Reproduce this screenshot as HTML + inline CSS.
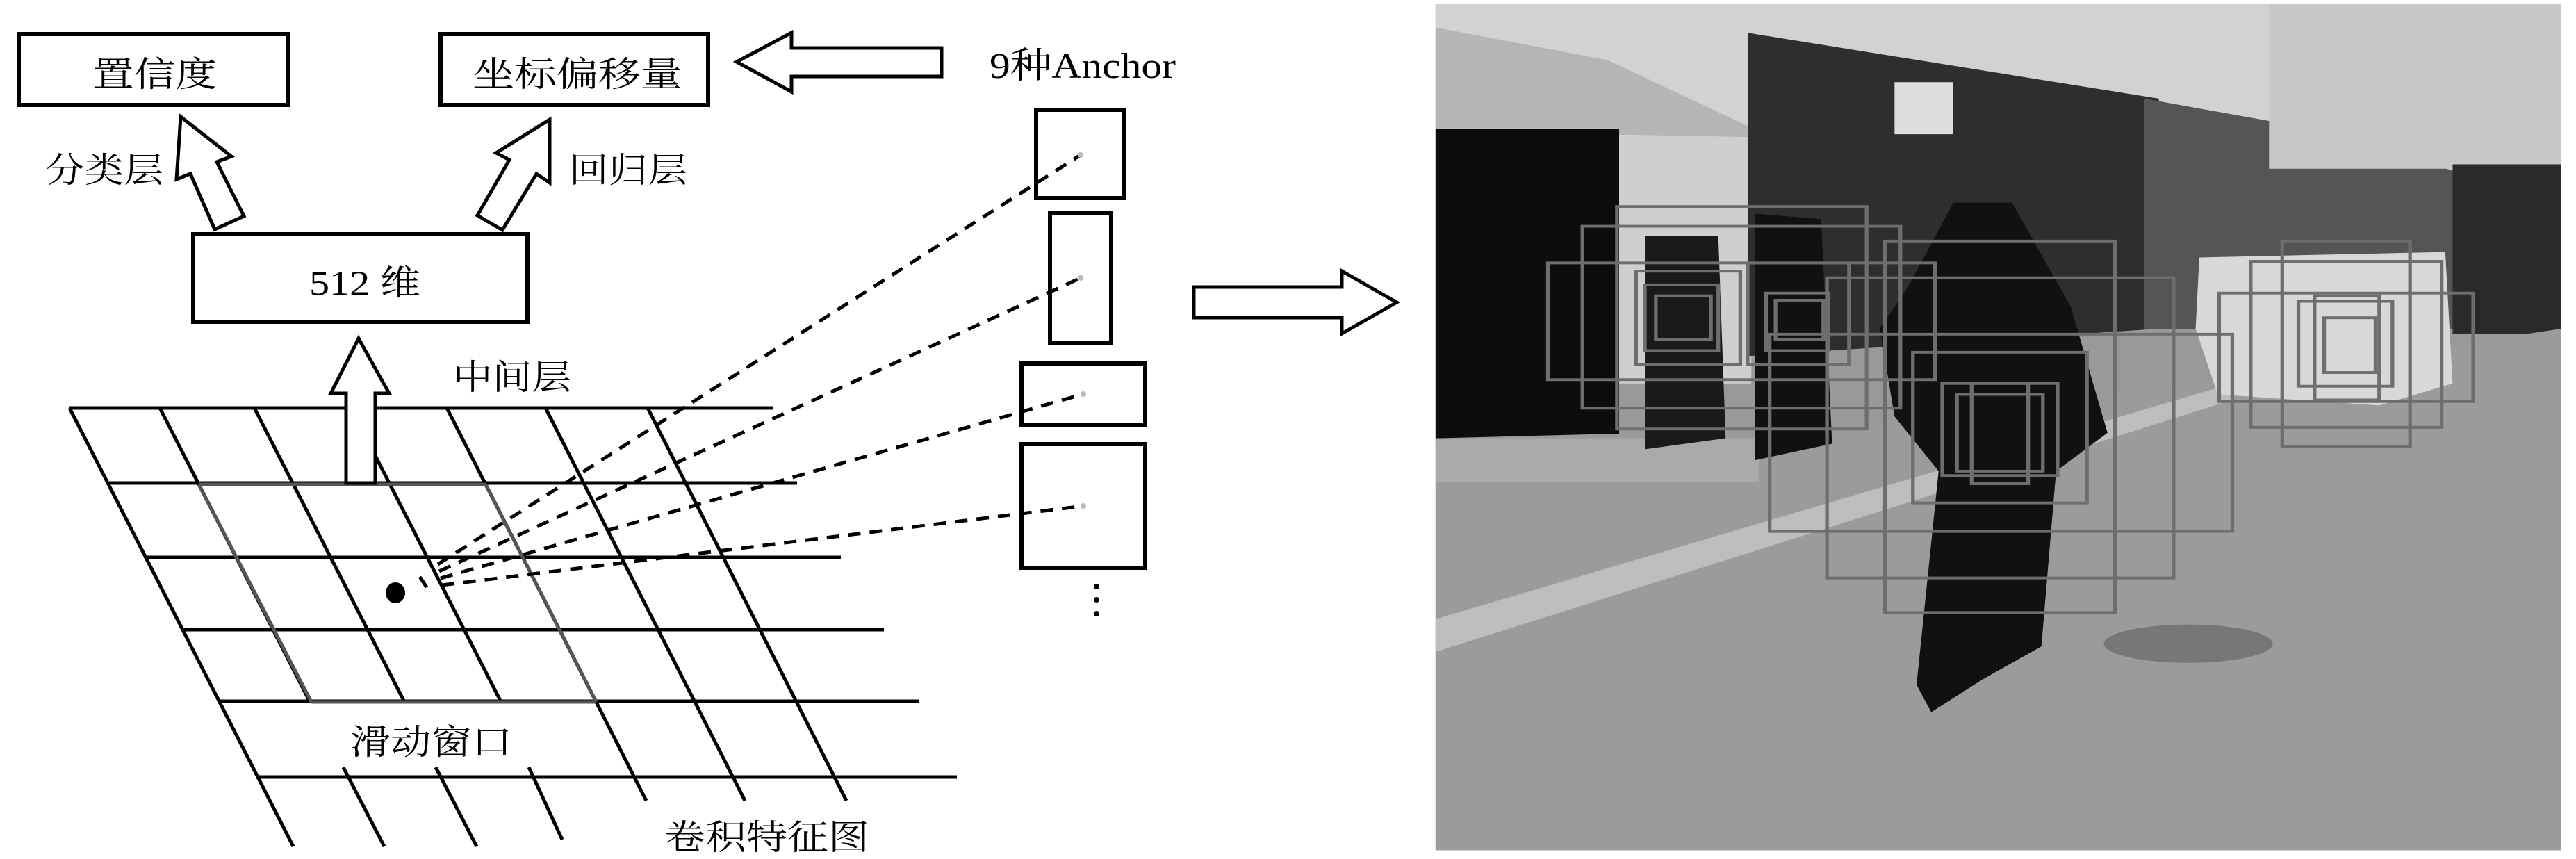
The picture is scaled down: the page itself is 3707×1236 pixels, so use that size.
<!DOCTYPE html>
<html><head><meta charset="utf-8"><style>
html,body{margin:0;padding:0;background:#fff}
svg{display:block;position:absolute;left:0;top:0}
</style></head><body>
<div style="position:relative;width:3707px;height:1236px;overflow:hidden">
<svg width="3707" height="1236" viewBox="0 0 3707 1236" style="font-family:'Liberation Serif','Noto Serif CJK SC',serif">
<g fill="none" stroke="#000" stroke-width="6">
<rect x="27" y="49" width="387" height="102"/>
<rect x="634" y="49" width="385" height="102"/>
<rect x="278" y="337" width="481" height="126"/>
<polygon points="260,168 333,225 312,233 351,311 309,330 274,250 254,258" stroke-width="5"/>
<polygon points="791,172 791,263 772,250 723,331 687,310 733,230 714,220" stroke-width="5"/>
<polygon points="1060,89 1139,47 1139,69 1355,69 1355,110 1139,110 1139,132" stroke-width="5"/>
<polygon points="2010,435 1931,390 1931,413 1718,413 1718,457 1931,457 1931,480" stroke-width="5"/>
<rect x="1491" y="158" width="127" height="127"/>
<rect x="1511" y="306" width="88" height="187"/>
<rect x="1470" y="523" width="178" height="89"/>
<rect x="1470" y="639" width="178" height="178"/>
<!-- grid -->
<g stroke-width="5">
<line x1="100" y1="587" x2="1113" y2="587"/>
<line x1="157" y1="695" x2="1147" y2="695"/>
<line x1="210" y1="802" x2="1210" y2="802"/>
<line x1="262" y1="906" x2="1272" y2="906"/>
<line x1="314" y1="1009" x2="1322" y2="1009"/>
<line x1="369" y1="1118" x2="1377" y2="1118"/>
<line x1="100" y1="587" x2="422" y2="1218"/>
<line x1="230" y1="587" x2="446" y2="1010"/>
<line x1="366" y1="587" x2="582" y2="1010"/>
<line x1="505" y1="587" x2="721" y2="1010"/>
<line x1="643" y1="587" x2="930" y2="1152"/>
<line x1="785" y1="587" x2="1072" y2="1152"/>
<line x1="932" y1="587" x2="1218" y2="1152"/>
<line x1="494" y1="1104" x2="553" y2="1218"/>
<line x1="627" y1="1104" x2="686" y2="1218"/>
<line x1="761" y1="1104" x2="809" y2="1208"/>
</g>
<g stroke="#555" stroke-width="5">
<line x1="286" y1="697" x2="448" y2="1010"/>
<line x1="699" y1="697" x2="858" y2="1010"/>
<line x1="286" y1="697" x2="699" y2="697"/>
<line x1="448" y1="1010" x2="858" y2="1010"/>
</g>
</g>
<!-- vertical arrow -->
<polygon points="516,487 560,566 540,566 540,695 498,695 498,566 476,566" fill="#fff" stroke="#000" stroke-width="5"/>
<!-- dashed -->
<g stroke="#000" stroke-width="5" stroke-dasharray="18,13" fill="none">
<line x1="630" y1="812" x2="1555" y2="223"/>
<line x1="632" y1="822" x2="1555" y2="400"/>
<line x1="634" y1="832" x2="1559" y2="567"/>
<line x1="636" y1="842" x2="1559" y2="728"/>
</g>
<line x1="604" y1="830" x2="614" y2="845" stroke="#000" stroke-width="5"/>
<ellipse cx="569" cy="853" rx="14" ry="15" fill="#000"/>
<g fill="#bbb"><circle cx="1555" cy="223" r="4"/><circle cx="1555" cy="400" r="4"/><circle cx="1559" cy="567" r="4"/><circle cx="1559" cy="728" r="4"/></g>
<g fill="#000"><circle cx="1578" cy="844" r="4"/><circle cx="1578" cy="863" r="4"/><circle cx="1578" cy="883" r="4"/></g>
<!-- text -->
<g fill="#000" font-size="50">
<text x="133" y="124" textLength="179" lengthAdjust="spacingAndGlyphs">置信度</text>
<text x="680" y="124" textLength="302" lengthAdjust="spacingAndGlyphs">坐标偏移量</text>
<text x="65" y="262" textLength="170" lengthAdjust="spacingAndGlyphs">分类层</text>
<text x="819" y="262" textLength="170" lengthAdjust="spacingAndGlyphs">回归层</text>
<text x="445" y="424" textLength="160" lengthAdjust="spacingAndGlyphs">512 维</text>
<text x="652" y="560" textLength="170" lengthAdjust="spacingAndGlyphs">中间层</text>
<text x="504" y="1085" textLength="233" lengthAdjust="spacingAndGlyphs">滑动窗口</text>
<text x="956" y="1222" textLength="295" lengthAdjust="spacingAndGlyphs">卷积特征图</text>
<text x="1424" y="112" font-size="52" textLength="268" lengthAdjust="spacingAndGlyphs">9种Anchor</text>
</g>
</svg>
<!-- photo -->
<svg width="1657" height="1236" viewBox="0 0 1568 1568" preserveAspectRatio="none" style="left:2050px">
<rect x="15" y="8" width="1533" height="1544" fill="#999"/>
<rect x="15" y="8" width="1533" height="420" fill="#d2d2d2"/>
<polygon points="15,50 250,110 440,230 440,250 15,240" fill="#b5b5b5"/>
<rect x="15" y="235" width="250" height="570" fill="#0d0d0d"/>
<rect x="265" y="250" width="180" height="450" fill="#cfcfcf"/>
<polygon points="440,60 1000,180 1000,600 440,650" fill="#2e2e2e"/>
<rect x="640" y="150" width="80" height="95" fill="#ddd"/>
<polygon points="980,180 1230,240 1420,320 1420,600 980,600" fill="#555"/>
<rect x="1150" y="8" width="398" height="300" fill="#c8c8c8"/>
<rect x="1400" y="300" width="148" height="310" fill="#2a2a2a"/>
<polygon points="15,800 600,780 1100,690 1548,600 1548,1552 15,1552" fill="#9b9b9b"/>
<polygon points="15,1130 1100,700 1100,730 15,1190" fill="#bdbdbd"/>
<rect x="15" y="800" width="440" height="80" fill="#aaa"/>
<polygon points="1055,470 1390,460 1400,700 1300,740 1080,720 1050,600" fill="#d8d8d8"/>
<polygon points="300,430 400,430 410,800 300,820" fill="#1a1a1a"/>
<polygon points="450,390 540,400 555,810 450,840" fill="#111"/>
<polygon points="720,370 800,370 880,560 930,790 860,860 840,1180 760,1240 690,1300 670,1250 700,860 640,760 620,600 660,520" fill="#111"/>
<ellipse cx="1040" cy="1175" rx="115" ry="35" fill="#777"/>
<g fill="none" stroke="#6e6e6e" stroke-width="5" vector-effect="non-scaling-stroke">
<rect x="262" y="377" width="340" height="406"/>
<rect x="215" y="413" width="433" height="332"/>
<rect x="168" y="480" width="527" height="213"/>
<rect x="288" y="495" width="142" height="170"/>
<rect x="300" y="520" width="100" height="120"/>
<rect x="315" y="540" width="75" height="80"/>
<rect x="440" y="480" width="138" height="185"/>
<rect x="465" y="535" width="85" height="105"/>
<rect x="478" y="548" width="65" height="72"/>
<rect x="627" y="440" width="313" height="678"/>
<rect x="548" y="507" width="472" height="548"/>
<rect x="470" y="610" width="630" height="360"/>
<rect x="665" y="643" width="237" height="275"/>
<rect x="705" y="700" width="157" height="168"/>
<rect x="745" y="700" width="77" height="183"/>
<rect x="725" y="720" width="117" height="140"/>
<rect x="1168" y="440" width="174" height="375"/>
<rect x="1125" y="477" width="260" height="303"/>
<rect x="1082" y="535" width="346" height="198"/>
<rect x="1190" y="550" width="128" height="155"/>
<rect x="1212" y="540" width="88" height="190"/>
<rect x="1225" y="580" width="70" height="100"/>
</g>
</svg>
</div>
</body></html>
